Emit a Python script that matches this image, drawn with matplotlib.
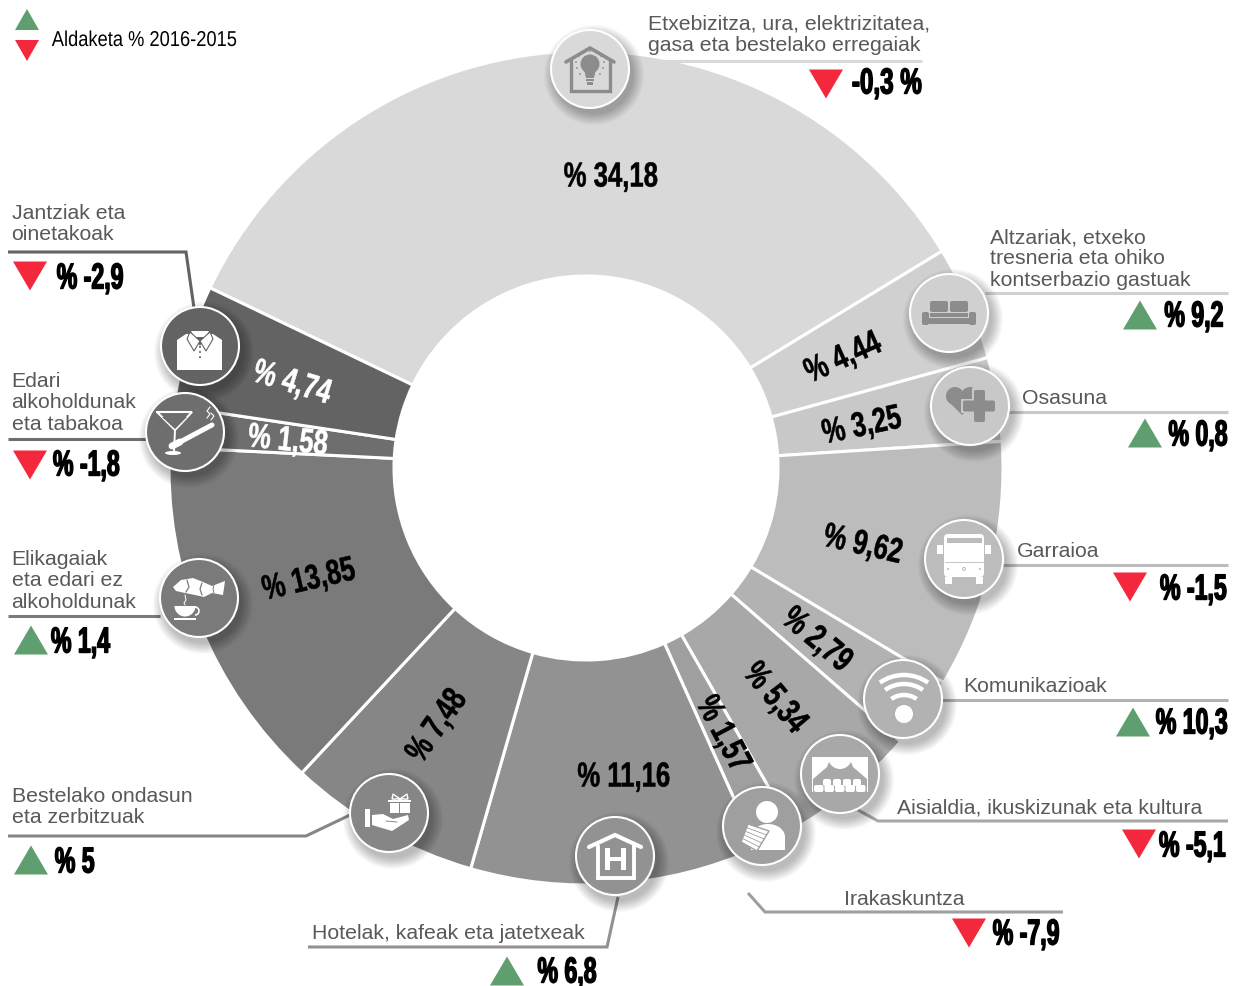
import matplotlib
matplotlib.use('Agg')
import matplotlib.pyplot as plt
from matplotlib.patches import Polygon, Circle, Rectangle, Wedge, Arc, Ellipse, FancyBboxPatch
from matplotlib.patheffects import AbstractPathEffect
from matplotlib.path import Path
from matplotlib.transforms import Affine2D

# Data
names = ['Etxebizitza, ura, elektrizitatea,\ngasa eta bestelako erregaiak',
         'Altzariak, etxeko\ntresneria eta ohiko\nkontserbazio gastuak',
         'Osasuna', 'Garraioa', 'Komunikazioak',
         'Aisialdia, ikuskizunak eta kultura', 'Irakaskuntza',
         'Hotelak, kafeak eta jatetxeak', 'Bestelako ondasun\neta zerbitzuak',
         'Elikagaiak\neta edari ez\nalkoholdunak',
         'Edari\nalkoholdunak\neta tabakoa', 'Jantziak eta\noinetakoak']
shares = [34.18, 4.44, 3.25, 9.62, 2.79, 5.34, 1.57, 11.16, 7.48, 13.85, 1.58, 4.74]
changes = [-0.3, 9.2, 0.8, -1.5, 10.3, -5.1, -7.9, 6.8, 5, 1.4, -1.8, -2.9]
legend_text = 'Aldaketa % 2016-2015'

# Styles and layout, in picture pixels
greys = ['#d9d9d9', '#d0d0d0', '#c8c8c8', '#bcbcbc', '#b2b2b2', '#a8a8a8',
         '#9f9f9f', '#929292', '#868686', '#7a7a7a', '#6e6e6e', '#636363']
share_pos = [(611, 177, 0), (843, 358, 24), (862, 426, 12), (863, 545, -13),
             (817, 640, -40), (775, 698, -50), (723, 734, -62), (624, 777, 0),
             (437, 726, 55), (309, 580, 13), (288, 441, -6), (292, 383, -17)]
icon_pos = [(590, 69), (949, 313), (970, 406), (964, 559), (903, 699), (840, 774),
            (762, 826), (615, 856), (389, 813), (199, 598), (185, 432), (200, 346)]
name_pos = [(648, 30), (990, 243), (1022, 404), (1017, 557), (963, 692), (897, 814),
            (844, 905), (312, 939), (11.5, 802), (11.5, 565), (11.5, 387), (11.5, 219)]
leaders = [[(628, 61), (922, 61)],
           [(985, 293), (1228, 293)],
           [(1008, 412), (1228, 412)],
           [(1003, 565), (1228, 565)],
           [(942, 700), (1228, 700)],
           [(858, 810), (878, 821), (1228, 821)],
           [(748, 893), (765, 912), (1063, 912)],
           [(618, 897), (607, 947), (308, 947)],
           [(350, 815), (306, 836), (8, 836)],
           [(8, 616), (160, 616)],
           [(8, 439), (146, 439)],
           [(8, 252), (186, 252), (194, 308)]]
# triangle centre x, triangle centre y, right edge of the value text, value y
change_pos = [(826, 84, 922, 84), (1140, 315, 1224, 317), (1145, 433, 1228, 436),
              (1130, 587, 1227, 590), (1133, 722, 1228, 724), (1139, 844, 1226, 847),
              (969, 933, 1060, 935), (507, 971, 597, 968), (31, 860, 95, 863),
              (31, 640, 110, 643), (30, 465, 120, 466), (30, 276, 124, 279)]
# The last value sits on the bottom edge, its box is taller than its ink
change_drop = [0, 0, 0, 0, 0, 0, 0, 5, 0, 0, 0, 0]

GREEN = '#5f9e6e'
RED = '#f4283c'
TXT = '#58595b'
SANS = 'Liberation Sans'


class Condense(AbstractPathEffect):
    """Squeeze a text sideways, the fonts here have no condensed cut."""

    def __init__(self, sx, anchor='center', bold=0.0, drop=0):
        super().__init__()
        self.sx = sx
        self.anchor = anchor
        self.bold = bold
        self.drop = drop

    def draw_path(self, renderer, gc, tpath, affine, rgbFace=None):
        verts = tpath.vertices.copy()
        x0, x1 = verts[:, 0].min(), verts[:, 0].max()
        ref = {'left': x0, 'right': x1, 'center': (x0 + x1) / 2}[self.anchor]
        verts[:, 0] = ref + self.sx * (verts[:, 0] - ref)
        squeezed = Path(verts, tpath.codes)
        gc0 = renderer.new_gc()
        gc0.copy_properties(gc)
        if self.bold and rgbFace is not None:
            gc0.set_linewidth(self.bold)
            gc0.set_foreground(rgbFace)
        renderer.draw_path(gc0, squeezed, affine + Affine2D().translate(0, -self.drop), rgbFace)
        gc0.restore()


fig = plt.figure(figsize=(12.34, 9.86), dpi=100)
cx, cy, rad, hole = 586, 468, 417, 192

# The ring
pie_ax = fig.add_axes([(cx - rad) / 1234, (986 - cy - rad) / 986, 2 * rad / 1234, 2 * rad / 986])
pie_ax.pie(shares, colors=greys, startangle=154.4, counterclock=False, radius=1,
           wedgeprops=dict(width=(rad - hole) / rad, edgecolor='white', linewidth=2.2))
pie_ax.set_xlim(-1, 1)
pie_ax.set_ylim(-1, 1)

# Everything else goes in pixel coordinates
ax = fig.add_axes([0, 0, 1, 1], zorder=5)
ax.set_xlim(0, 1234)
ax.set_ylim(986, 0)
ax.axis('off')


def triangle(x, y, up):
    d = -1 if up else 1
    ax.add_patch(Polygon([(x - 17, y - d * 14.5), (x + 17, y - d * 14.5), (x, y + d * 14.5)],
                         fc=GREEN if up else RED, lw=0, zorder=3))


def poly(ox, oy, pts, c, z=8, **kw):
    ax.add_patch(Polygon([(ox + a, oy + b) for a, b in pts], fc=c, lw=kw.pop('lw', 0), zorder=z, **kw))


def rect(ox, oy, x, y, w, h, c, z=8):
    ax.add_patch(Rectangle((ox + x, oy + y), w, h, fc=c, lw=0, zorder=z))


def rrect(ox, oy, x, y, w, h, c, r=2, z=8):
    ax.add_patch(FancyBboxPatch((ox + x, oy + y), w, h, boxstyle='round,pad=0,rounding_size=%g' % r,
                                fc=c, lw=0, zorder=z))


def circ(ox, oy, x, y, r, c, z=8):
    ax.add_patch(Circle((ox + x, oy + y), r, fc=c, lw=0, zorder=z))


def stroke(ox, oy, pts, c, w=2.0, z=8):
    ax.plot([ox + a for a, b in pts], [oy + b for a, b in pts], color=c, lw=w, zorder=z,
            solid_capstyle='round', solid_joinstyle='miter')


def icon_bulb(x, y, c, bg):
    stroke(x, y, [(-24, -7), (0, -21), (24, -7)], c, 2.6)
    stroke(x, y, [(-19, -9), (-19, 22), (20, 22), (20, -9)], c, 2.4)
    circ(x, y, 0, -5, 9.5, c)
    poly(x, y, [(-6, 0), (6, 0), (4, 9), (-4, 9)], c)
    rect(x, y, -4, 10, 8, 2, c)
    rect(x, y, -3, 13, 6, 2.5, c)
    for a, b in [(-11, -13), (-6, -17), (0, -18), (6, -17), (11, -13), (-14, -7),
                 (14, -7), (-13, -1), (13, -1), (-10, 5), (10, 5)]:
        circ(x, y, a, b, 0.9, c)


def icon_sofa(x, y, c, bg):
    rrect(x, y, -19, -12, 18, 11, c)
    rrect(x, y, 1, -12, 18, 11, c)
    rect(x, y, -19, 0, 38, 3.5, c)
    rect(x, y, -20, 5, 40, 6, c)
    rrect(x, y, -27, -1, 7, 13, c)
    rrect(x, y, 20, -1, 7, 13, c)


def icon_heart(x, y, c, bg):
    circ(x, y, -15, -10, 9, c)
    circ(x, y, 0, -10, 9, c)
    poly(x, y, [(-24, -7), (9, -7), (-8, 9)], c)
    rect(x, y, 2, -18, 14, 36, bg)
    rect(x, y, -9, -7, 36, 14, bg)
    rrect(x, y, 4, -16, 11, 32, c)
    rrect(x, y, -7, -5.5, 32, 11, c)


def icon_bus(x, y, c, bg):
    rrect(x, y, -20, -25, 40, 43, c, 4)
    rect(x, y, -17, -21, 35, 5, bg)
    stroke(x, y, [(-19, 3), (19, 3)], bg, 0.6)
    rect(x, y, -27, -14, 6, 9, c)
    rect(x, y, 21, -14, 6, 9, c)
    rect(x, y, -19, 18, 7, 7, c)
    rect(x, y, 12, 18, 7, 7, c)
    circ(x, y, 0, 10, 2, bg)
    circ(x, y, 0, 10, 1, c, 9)
    circ(x, y, -16, 10, 1, bg)
    circ(x, y, 16, 10, 1, bg)


def icon_wifi(x, y, c, bg):
    circ(x, y, 1, 15, 9, c)
    for r, a, b in [(42, 235, 305), (33, 235, 305), (22, 235, 305)]:
        ax.add_patch(Arc((x + 1, y + 18), 2 * r, 2 * r, theta1=a, theta2=b, ec=c, lw=3.2, zorder=8))


def icon_stage(x, y, c, bg):
    poly(x, y, [(-28, -17), (-9, -17), (-13, -7), (-27, 5), (-28, 5)], c)
    poly(x, y, [(28, -17), (9, -17), (13, -7), (27, 5), (28, 5)], c)
    ax.add_patch(Wedge((x, y - 17), 12, 0, 180, fc=c, lw=0, zorder=8))
    rect(x, y, -28, 5, 1, 13, c)
    rect(x, y, 27, 5, 1, 13, c)
    for a in [-17, -7, 3, 13]:
        rrect(x, y, a, 5, 8, 7, c)
    for a in [-26, -15.5, -5, 5.5, 16]:
        rrect(x, y, a, 11, 9.5, 7, c, 2, 9)


def icon_person(x, y, c, bg):
    circ(x, y, 5, -14, 11, c)
    ax.add_patch(Ellipse((x + 6, y + 11), 34, 26, fc=c, lw=0, zorder=8))
    rect(x, y, -11, 11, 34, 13, c)
    poly(x, y, [(-14, -2), (7, 5), (-5, 25), (-21, 16)], c, z=9, ec=bg, lw=1)
    for t in [0.2, 0.4, 0.6, 0.8]:
        stroke(x, y, [(-14 - 7 * t, -2 + 18 * t), (7 - 12 * t, 5 + 20 * t)], bg, 0.6, 10)


def icon_hotel(x, y, c, bg):
    stroke(x, y, [(-26, -9), (0, -21), (26, -9)], c, 3)
    stroke(x, y, [(-17, -10), (-17, 22), (19, 22), (19, -10)], c, 2.8)
    rect(x, y, -10, -8, 4.5, 22, c)
    rect(x, y, 6, -8, 4.5, 22, c)
    rect(x, y, -10, 1, 20, 4, c)


def icon_gift(x, y, c, bg):
    rect(x, y, 1, -10, 9, 10, c)
    rect(x, y, 11, -10, 10, 10, c)
    rect(x, y, -1, -13, 23, 2, c)
    stroke(x, y, [(11, -14), (4, -19), (3, -14), (11, -14), (18, -19), (19, -14), (11, -14)], c, 1)
    rect(x, y, -24, -4, 5, 18, c)
    poly(x, y, [(-17, 2), (-6, 1), (4, 6), (19, 2), (20, 7), (3, 18), (-17, 12)], c)
    stroke(x, y, [(-3, 8), (8, 9)], bg, 0.7, 9)


def icon_fish(x, y, c, bg):
    poly(x, y, [(-26, -11), (-18, -18), (-6, -20), (4, -16), (13, -12), (26, -17), (25, -10),
                (24, -3), (13, -5), (5, -1), (-4, -3), (-14, -5), (-23, -7)], c)
    stroke(x, y, [(-12, -18), (-10, -11), (-13, -6)], bg, 0.9, 9)
    stroke(x, y, [(3, -15), (1, -9), (3, -3)], bg, 0.9, 9)
    stroke(x, y, [(15, -13), (14, -9), (15, -5)], bg, 0.7, 9)
    stroke(x, y, [(-14, -3), (-13, 2), (-15, 5), (-14, 7)], c, 0.7)
    ax.add_patch(Wedge((x - 14, y + 8), 10.5, 0, 180, fc=c, lw=0, zorder=8))
    rect(x, y, -24.5, 8, 21, 2, c)
    rect(x, y, -25, 20, 22, 1.6, c)
    ax.add_patch(Arc((x - 4, y + 13), 8, 8, theta1=270, theta2=90, ec=c, lw=1.2, zorder=8))


def icon_glass(x, y, c, bg):
    stroke(x, y, [(-28, -20), (7, -20), (-10, -2), (-28, -20)], c, 1.5)
    poly(x, y, [(-23, -15), (2, -15), (-10, -3)], bg)
    stroke(x, y, [(-10, -2), (-11, 20)], c, 1.4)
    ax.add_patch(Ellipse((x - 12, y + 21), 16, 4, fc=c, lw=0, zorder=8))
    stroke(x, y, [(-5, 10), (27, -7)], c, 3.6)
    stroke(x, y, [(-13, 14), (-5, 10)], c, 5.0, 9)
    stroke(x, y, [(22, -14), (25, -18), (22, -21), (25, -25)], c, 0.8)
    stroke(x, y, [(26, -12), (29, -16), (26, -19)], c, 0.8)


def icon_shirt(x, y, c, bg):
    poly(x, y, [(-23, -6), (-14, -12), (-8, -12), (0, 0), (8, -12), (13, -12), (22, -6), (22, 24), (-23, 24)], c)
    poly(x, y, [(-9, -15), (9, -15), (6, -9), (-6, -9)], c)
    poly(x, y, [(-10, -14), (0, -5), (-6, 5), (-13, -7)], c, z=9, ec=bg, lw=0.8)
    poly(x, y, [(10, -14), (0, -5), (6, 5), (13, -7)], c, z=9, ec=bg, lw=0.8)
    for b in [1, 6, 11]:
        circ(x, y, 0, b, 1, bg, 10)


icons = [icon_bulb, icon_sofa, icon_heart, icon_bus, icon_wifi, icon_stage, icon_person,
         icon_hotel, icon_gift, icon_fish, icon_glass, icon_shirt]
glyph_colors = ['#8c8c8c', '#8c8c8c', '#8c8c8c'] + ['white'] * 9

for i, name in enumerate(names):
    # Leader lines
    xs = [p[0] for p in leaders[i]]
    ys = [p[1] for p in leaders[i]]
    ax.plot(xs, ys, color=greys[i], lw=2.2, zorder=2, solid_joinstyle='miter', solid_capstyle='butt')

    # Category name
    for k, line in enumerate(name.split('\n')):
        ax.text(name_pos[i][0], name_pos[i][1] + k * 21.3, line, family=SANS, fontsize=15.3,
                color=TXT, ha='left', va='baseline', zorder=3)

    # Share label on the ring
    sx, sy, srot = share_pos[i]
    share_color = 'white' if i >= 10 else 'black'
    ax.text(sx, sy, '% ' + str(shares[i]).replace('.', ','), family=SANS, fontweight='bold', fontsize=25,
            color=share_color, rotation=srot, rotation_mode='anchor', ha='center', va='center', zorder=3,
            path_effects=[Condense(0.74, 'center', 0.4)])

    # Change with its arrow
    tx, ty, vx, vy = change_pos[i]
    triangle(tx, ty, changes[i] > 0)
    change_str = str(changes[i]).replace('.', ',')
    label = change_str + ' %' if i == 0 else '% ' + change_str
    ax.text(vx, vy, label, family=SANS, fontweight='bold', fontsize=26, color='black', ha='right',
            va='center', zorder=3, path_effects=[Condense(0.67 if i == 0 else 0.64, 'right', 1.0, change_drop[i])])

    # Icon circle with a soft shadow
    ix, iy = icon_pos[i]
    for r in range(50, 38, -1):
        ax.add_patch(Circle((ix + 4, iy + 6), r, fc='black', alpha=0.025, lw=0, zorder=6))
    ax.add_patch(Circle((ix, iy), 39, fc=greys[i], ec='white', lw=1.5, zorder=7))
    icons[i](ix, iy, glyph_colors[i], greys[i])

# Legend
ax.add_patch(Polygon([(15, 30), (39, 30), (27, 9)], fc=GREEN, lw=0))
ax.add_patch(Polygon([(15, 40), (39, 40), (27, 61)], fc=RED, lw=0))
ax.text(237, 46, legend_text, family=SANS, fontsize=15.5, color='black', ha='right', va='baseline',
        path_effects=[Condense(0.85, 'right')])

fig.savefig('out.png', dpi=100)
